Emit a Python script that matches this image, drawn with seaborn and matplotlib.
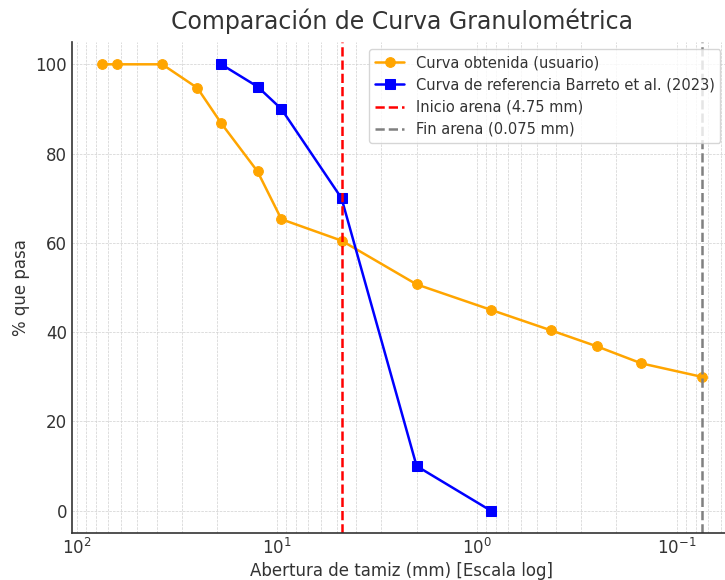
import matplotlib
matplotlib.use("Agg")
import matplotlib.pyplot as plt
import seaborn as sns
import pandas as pd

# Curva obtenida (usuario)
tamiz_usuario = [75, 63, 37.5, 25, 19, 12.5, 9.5, 4.75, 2, 0.85, 0.425, 0.25, 0.15, 0.075]
pasa_usuario = [100, 100, 100, 94.7, 86.8, 76.0, 65.3, 60.5, 50.7, 45.0, 40.4, 36.8, 33.0, 30.0]

# Curva de referencia Barreto et al. (2023)
tamiz_ref = [19, 12.5, 9.5, 4.75, 2, 0.85]
pasa_ref = [100, 95, 90, 70, 10, 0]

inicio_arena = 4.75
fin_arena = 0.075

df_usuario = pd.DataFrame({"tamiz": tamiz_usuario, "pasa": pasa_usuario})
df_ref = pd.DataFrame({"tamiz": tamiz_ref, "pasa": pasa_ref})

sns.set_style("white")
plt.rcParams["font.family"] = ["DejaVu Sans"]
plt.rcParams["text.color"] = "#333333"
plt.rcParams["axes.labelcolor"] = "#333333"
plt.rcParams["xtick.color"] = "#333333"
plt.rcParams["ytick.color"] = "#333333"

fig = plt.figure(figsize=(7.25, 5.8), dpi=100)
ax = fig.add_axes([0.0993, 0.081, 0.910, 0.8466])

sns.lineplot(data=df_usuario, x="tamiz", y="pasa", ax=ax, color="orange",
             marker="o", markersize=7, mec="orange", linewidth=1.8,
             label="Curva obtenida (usuario)")
sns.lineplot(data=df_ref, x="tamiz", y="pasa", ax=ax, color="blue",
             marker="s", markersize=7, mec="blue", linewidth=1.8,
             label="Curva de referencia Barreto et al. (2023)")
ax.axvline(inicio_arena, color="red", linestyle="--", linewidth=1.8,
           label="Inicio arena (4.75 mm)")
ax.axvline(fin_arena, color="gray", linestyle="--", linewidth=1.8,
           label="Fin arena (0.075 mm)")

ax.set_xscale("log")
ax.set_xlim(106, 0.053)
ax.set_ylim(-5, 105)

ax.grid(True, which="both", linestyle="--", linewidth=0.5, color="#d0d0d0")
ax.tick_params(axis="both", which="both", direction="in", labelsize=12)
ax.tick_params(axis="both", which="major", length=5)
ax.tick_params(axis="x", which="minor", length=3)
for lado in ["top", "right"]:
    ax.spines[lado].set_visible(False)
for lado in ["left", "bottom"]:
    ax.spines[lado].set_color("#333333")
    ax.spines[lado].set_linewidth(1.2)

ax.set_title("Comparación de Curva Granulométrica", fontsize=17, pad=9)
ax.set_xlabel("Abertura de tamiz (mm) [Escala log]", fontsize=12, labelpad=3)
ax.set_ylabel("% que pasa", fontsize=12)
ax.legend(loc="upper right", bbox_to_anchor=(0.994, 1.0), fontsize=10.5, frameon=True)

fig.savefig("out.png", dpi=100)
